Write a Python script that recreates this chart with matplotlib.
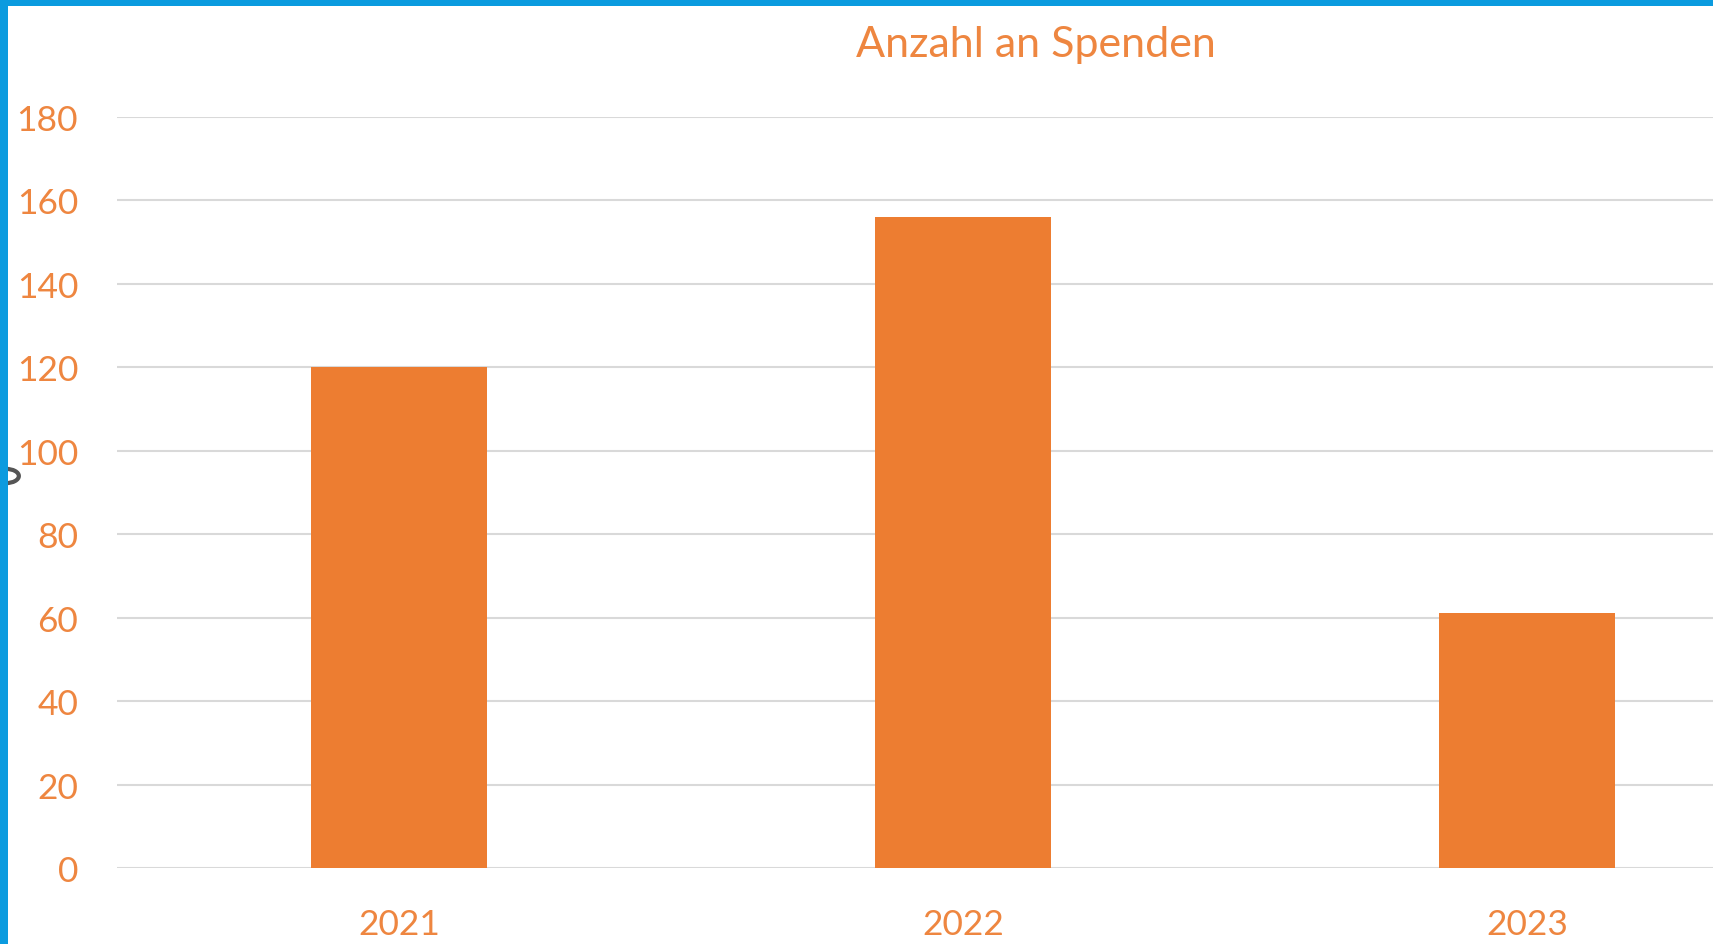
import matplotlib
matplotlib.use("Agg")
import matplotlib.pyplot as plt
from matplotlib.patches import Rectangle, Circle

years = ["2021", "2022", "2023"]
spenden = [120, 156, 61]
y_ticks = [0, 20, 40, 60, 80, 100, 120, 140, 160, 180]
title = "Anzahl an Spenden"

orange = "#ED7D31"
text_orange = "#EE8640"
blue = "#0B9BDF"

plt.rcParams["font.family"] = ["Lato", "DejaVu Sans"]

W, H = 1713, 945
fig = plt.figure(figsize=(W / 100, H / 100), dpi=100)

# the chart is cut off on the right, so the axes run past the figure edge
ax = fig.add_axes([117 / W, (H - 869) / H, (1809 - 117) / W, (869 - 118) / H])
x = range(len(years))
ax.bar(x, spenden, width=0.312, color=orange, zorder=3)
ax.set_xlim(-0.5, 2.5)
ax.set_ylim(0, 180)
ax.set_yticks(y_ticks)
ax.set_xticks(list(x))
ax.set_xticklabels(years)
ax.grid(axis="y", color="#D9D9D9", linewidth=1.5, zorder=0)
ax.set_axisbelow(True)
for s in ax.spines.values():
    s.set_visible(False)
ax.tick_params(length=0, colors=text_orange, labelsize=25.5)
ax.tick_params(axis="y", pad=28)
ax.tick_params(axis="x", pad=29)

fig.text(1036 / W, 1 - 45 / H, title, ha="center", va="center",
         color=text_orange, fontsize=31)

# small handle peeking in at the left edge
fig.patches.append(Circle((6 / W, 1 - 477 / H), 0.0075, transform=fig.transFigure,
                          facecolor="white", edgecolor="#555555", linewidth=3, zorder=5))
# blue frame on the top and left
fig.patches.append(Rectangle((0, 0), 8 / W, 1, transform=fig.transFigure,
                             facecolor=blue, edgecolor="none", zorder=10))
fig.patches.append(Rectangle((0, 1 - 7 / H), 1, 7 / H, transform=fig.transFigure,
                             facecolor=blue, edgecolor="none", zorder=10))

fig.savefig("out.png", dpi=100)
